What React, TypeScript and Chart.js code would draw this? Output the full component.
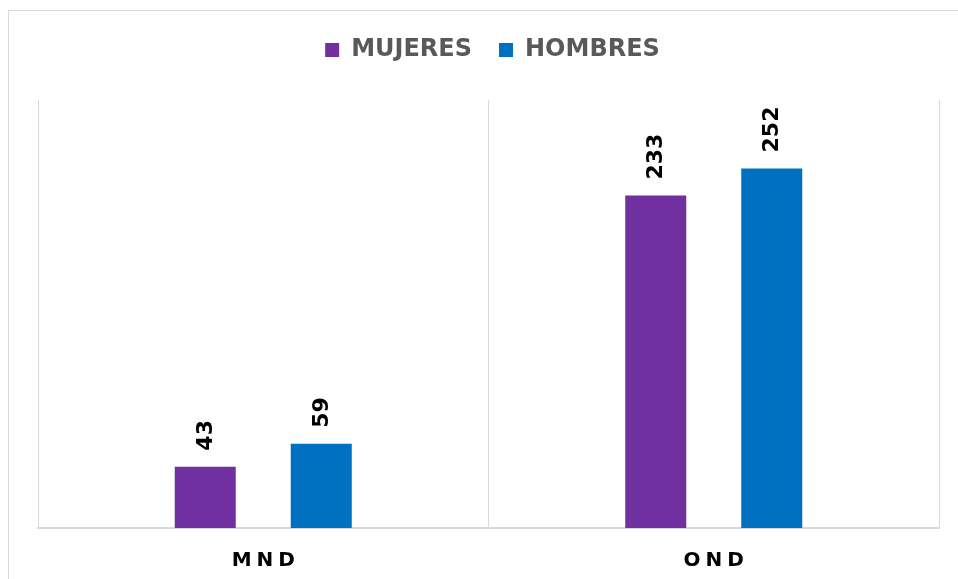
import React, { useEffect, useRef } from "react";
import { Chart, registerables } from "chart.js";

Chart.register(...registerables);

const categories = ["MND", "OND"];
const seriesNames = ["MUJERES", "HOMBRES"];
const mujeres = [43, 233];
const hombres = [59, 252];
const seriesColors = ["#7030A0", "#0070C0"];
const yMin = 0;
const yMax = 300;

const FONT = "'DejaVu Sans', Verdana, sans-serif";
const PLOT_TOP = 100;

const labelsPlugin = {
  id: "customLabels",
  beforeLayout(chart: any) {
    const lg = chart.legend;
    if (lg && !lg._wrappedFit) {
      const f = lg.fit;
      lg.fit = function () {
        f.call(this);
        const want = PLOT_TOP - (chart.options.layout.padding.top || 0);
        if (this.height < want) this.height = want;
      };
      const d = lg.draw;
      lg.draw = function () {
        const ctx = this.ctx;
        ctx.save();
        ctx.translate(4, -1);
        d.call(this);
        ctx.restore();
      };
      lg._wrappedFit = true;
    }
  },
  afterDatasetsDraw(chart: any) {
    const ctx = chart.ctx;
    ctx.save();
    ctx.fillStyle = "#000000";
    ctx.font = `bold 22px ${FONT}`;
    ctx.textAlign = "left";
    ctx.textBaseline = "middle";
    chart.data.datasets.forEach((ds: any, di: number) => {
      const meta = chart.getDatasetMeta(di);
      meta.data.forEach((bar: any, i: number) => {
        ctx.save();
        ctx.translate(bar.x + 1, bar.y - 16);
        ctx.rotate(-Math.PI / 2);
        ctx.fillText(String(ds.data[i]), 0, 0);
        ctx.restore();
      });
    });
    ctx.restore();
  },
  afterDraw(chart: any) {
    const ctx = chart.ctx;
    const xs = chart.scales.x;
    ctx.save();
    ctx.fillStyle = "#000000";
    ctx.font = `bold 20px ${FONT}`;
    ctx.textAlign = "left";
    ctx.textBaseline = "alphabetic";
    const spacing = 5;
    categories.forEach((c, i) => {
      (ctx as any).letterSpacing = "0px";
      const w = ctx.measureText(c).width;
      const total = w + spacing * (c.length - 1);
      const cx = xs.getPixelForTick(i);
      (ctx as any).letterSpacing = spacing + "px";
      ctx.fillText(c, cx - total / 2, 566);
    });
    (ctx as any).letterSpacing = "0px";
    ctx.restore();
  },
};

export default function App() {
  const ref = useRef<HTMLCanvasElement | null>(null);
  useEffect(() => {
    if (!ref.current) return;
    const chart = new Chart(ref.current, {
      type: "bar",
      data: {
        labels: categories,
        datasets: [
          {
            label: seriesNames[0],
            data: mujeres,
            backgroundColor: seriesColors[0],
            categoryPercentage: 0.515,
            barPercentage: 0.526,
          },
          {
            label: seriesNames[1],
            data: hombres,
            backgroundColor: seriesColors[1],
            categoryPercentage: 0.515,
            barPercentage: 0.526,
          },
        ],
      },
      options: {
        responsive: false,
        animation: false,
        layout: { padding: { left: 38, right: 19, top: 12, bottom: 0 } },
        plugins: {
          legend: {
            display: true,
            position: "top",
            labels: {
              boxWidth: 14,
              boxHeight: 14,
              padding: 27,
              color: "#595959",
              font: { family: FONT, size: 24, weight: "bold" },
            },
          },
          tooltip: { enabled: false },
        },
        scales: {
          x: {
            offset: true,
            grid: {
              display: true,
              offset: true,
              color: "#d9d9d9",
              lineWidth: 1,
              drawTicks: false,
            },
            border: { display: true, color: "#d9d9d9", width: 2 },
            ticks: { display: false },
            afterFit(scale: any) {
              scale.height = 51;
            },
          },
          y: {
            display: false,
            min: yMin,
            max: yMax,
          },
        },
      },
      plugins: [labelsPlugin],
    } as any);
    return () => chart.destroy();
  }, []);

  return (
    <div
      style={{
        position: "fixed",
        left: 0,
        top: 0,
        width: 958,
        height: 579,
        overflow: "hidden",
        background: "#ffffff",
      }}
    >
      <div
        style={{
          position: "absolute",
          left: 8,
          top: 10,
          width: 1000,
          height: 700,
          border: "1px solid #d9d9d9",
        }}
      />
      <canvas
        ref={ref}
        width={958}
        height={579}
        style={{ position: "absolute", left: 0, top: 0, width: 958, height: 579 }}
      />
    </div>
  );
}
